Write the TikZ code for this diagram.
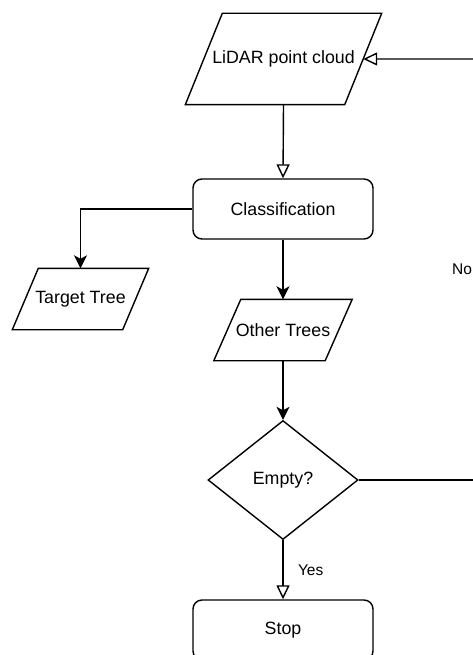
\documentclass[tikz,border=0pt]{standalone}
\usepackage{fontspec}
\setmainfont{Liberation Sans}
\usetikzlibrary{shapes.geometric,arrows.meta,calc}

\begin{document}
\begin{tikzpicture}[x=1pt,y=-1pt,line width=1.4pt,
  nodefont/.style={font=\fontsize{17.8}{21}\selectfont},
  lblfont/.style={font=\fontsize{15.5}{18}\selectfont},
  box/.style={draw,rounded corners=9pt,minimum width=180pt,minimum height=60pt,inner sep=0pt,nodefont},
  parabody/.style={minimum width=#1,inner sep=0pt,nodefont},
  decision/.style={draw,diamond,minimum width=150pt,minimum height=119pt,inner sep=0pt,nodefont},
  openarrow/.style={-{Triangle[open,length=14pt,width=13pt]}},
  fillarrow/.style={-{Stealth[length=13pt,width=13pt,inset=3.5pt]}}
]
\useasboundingbox (0,0) rectangle (473,655);
\clip (0,0) rectangle (473,655);

% input data
\node[parabody=195pt,minimum height=90pt] (lid) at (283.5,59) {LiDAR point cloud};
\draw ([xshift=37pt]lid.north west) -- (lid.north east) -- ([xshift=-37pt]lid.south east) -- (lid.south west) -- cycle;
\coordinate (lidR) at ($(lid.north east)!0.5!([xshift=-37pt]lid.south east)$);

% classification step
\node[box] (cls) at (283,209) {Classification};

% outputs of the classification
\node[parabody=135pt,minimum height=60pt] (tt) at (80.5,299) {Target Tree};
\draw ([xshift=26pt]tt.north west) -- (tt.north east) -- ([xshift=-26pt]tt.south east) -- (tt.south west) -- cycle;

\node[parabody=137pt,minimum height=60pt] (ot) at (283,330) {Other Trees};
\draw ([xshift=27pt]ot.north west) -- (ot.north east) -- ([xshift=-27pt]ot.south east) -- (ot.south west) -- cycle;

% loop test
\node[decision] (emp) at (283,480) {Empty?};

% end
\node[box] (stop) at (283,630) {Stop};

% loop return path
\coordinate (inR) at (476,59);
\coordinate (outR) at (476,480);
\node[lblfont,anchor=center] (no) at (462,269) {No};

% connectors
\draw[openarrow] (lid.south) -- (cls.north);
\draw[openarrow] (inR) -- (lidR);
\draw[fillarrow] (cls.west) -| (tt.north);
\draw[fillarrow] (cls.south) -- (ot.north);
\draw[fillarrow] (ot.south) -- (emp.north);
\draw (emp.east) -- (outR);
\draw[openarrow] (emp.south) -- node[lblfont,right=11pt,pos=0.5] (yes) {Yes} (stop.north);
\end{tikzpicture}
\end{document}
